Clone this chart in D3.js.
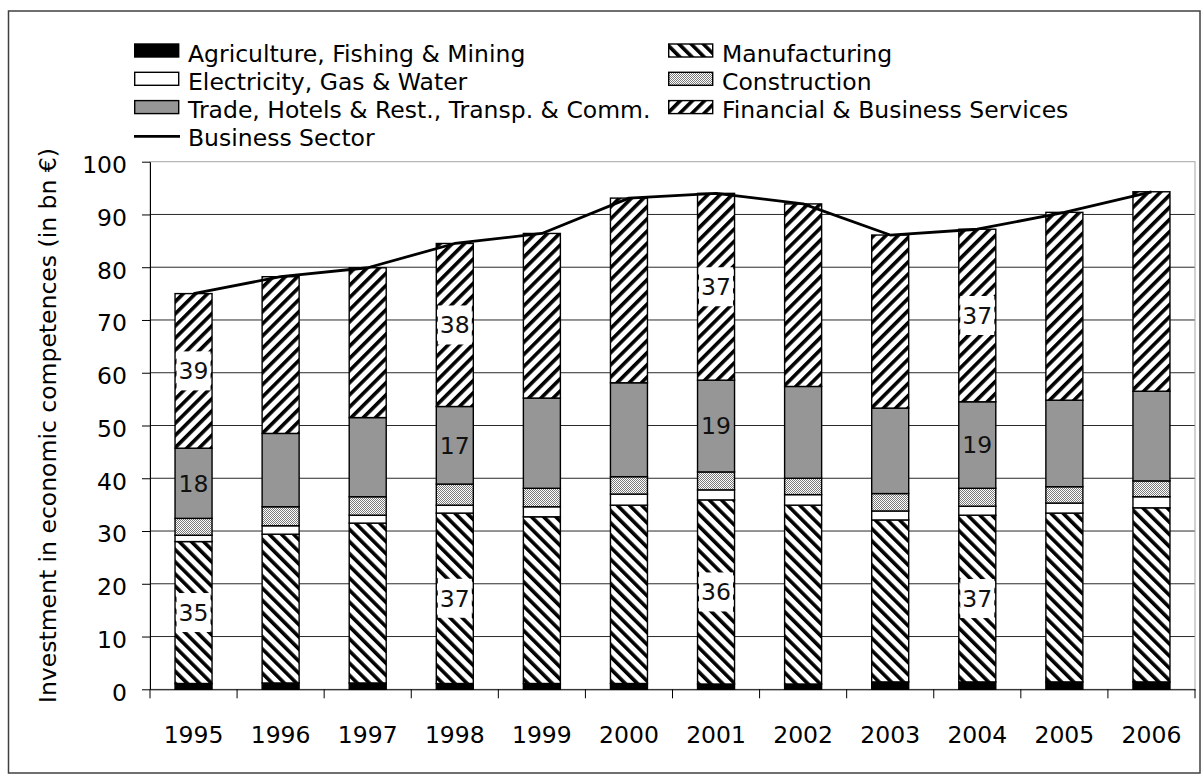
<!DOCTYPE html>
<html>
<head>
<meta charset="utf-8">
<script src="https://cdn.jsdelivr.net/npm/d3@7"></script>
<style>
  html, body { margin: 0; padding: 0; background: #fff; }
  svg { display: block; font-family: "DejaVu Sans", "Open Sans", sans-serif; }
</style>
</head>
<body>
<svg id="chart" width="1202" height="778"></svg>
<script>
// Investment in economic competences by sector, bn €
const years = ["1995", "1996", "1997", "1998", "1999", "2000", "2001", "2002", "2003", "2004", "2005", "2006"];
const agriculture   = [1.1, 1.2, 1.2, 1.1, 1.1, 1.1, 1.0, 1.0, 1.4, 1.4, 1.4, 1.4];
const manufacturing = [26.9, 28.2, 30.3, 32.3, 31.6, 33.8, 34.9, 33.9, 30.7, 31.6, 32.0, 33.0];
const electricity   = [1.2, 1.6, 1.5, 1.5, 1.9, 2.1, 1.9, 2.0, 1.7, 1.7, 1.9, 2.1];
const construction  = [3.2, 3.6, 3.5, 4.0, 3.5, 3.3, 3.4, 3.1, 3.3, 3.4, 3.1, 3.0];
const trade         = [13.3, 13.9, 15.0, 14.7, 17.1, 17.8, 17.4, 17.4, 16.2, 16.4, 16.4, 17.0];
const financial     = [29.3, 29.7, 28.4, 30.9, 31.2, 35.0, 35.4, 34.6, 32.8, 32.7, 35.6, 37.8];
const businessSector = [75.0, 78.2, 79.9, 84.5, 86.4, 93.1, 94.0, 92.0, 86.1, 87.2, 90.4, 94.3];

// Sector shares (%) printed inside selected bars
const shareYears         = ["1995", "1998", "2001", "2004"];
const manufacturingShare = [35, 37, 36, 37];
const tradeShare         = [18, 17, 19, 19];
const financialShare     = [39, 38, 37, 37];

const yTicks = [0, 10, 20, 30, 40, 50, 60, 70, 80, 90, 100];

const seriesKeys = ["agriculture", "manufacturing", "electricity", "construction", "trade", "financial"];
const seriesNames = {
  agriculture: "Agriculture, Fishing & Mining",
  manufacturing: "Manufacturing",
  electricity: "Electricity, Gas & Water",
  construction: "Construction",
  trade: "Trade, Hotels & Rest., Transp. & Comm.",
  financial: "Financial & Business Services"
};
const seriesValues = { agriculture, manufacturing, electricity, construction, trade, financial };
const table = years.map((year, i) => {
  const row = { year };
  seriesKeys.forEach(k => { row[k] = seriesValues[k][i]; });
  return row;
});

const FONT = "'DejaVu Sans', 'Open Sans', sans-serif";
const FS = 23.5;
const svg = d3.select("#chart");
const defs = svg.append("defs");

// Fill patterns
function stripes(id, angle) {
  const p = defs.append("pattern")
    .attr("id", id)
    .attr("patternUnits", "userSpaceOnUse")
    .attr("width", 8.6).attr("height", 8.6)
    .attr("patternTransform", `rotate(${angle})`);
  p.append("rect").attr("width", 8.6).attr("height", 8.6).attr("fill", "#fff");
  p.append("rect").attr("width", 3.6).attr("height", 8.6).attr("fill", "#000");
}
stripes("pat-manufacturing", -45);
stripes("pat-financial", 45);

const grid = defs.append("pattern")
  .attr("id", "pat-construction")
  .attr("patternUnits", "userSpaceOnUse")
  .attr("width", 4).attr("height", 4);
grid.append("rect").attr("width", 4).attr("height", 4).attr("fill", "#fff");
[[0, 0], [2, 0], [1, 1], [3, 1], [0, 2], [2, 2], [1, 3], [3, 3]].forEach(([px, py]) => {
  grid.append("rect").attr("x", px).attr("y", py).attr("width", 1).attr("height", 1).attr("fill", "#7a7a7a");
});

const fills = {
  agriculture: "#000",
  manufacturing: "url(#pat-manufacturing)",
  electricity: "#fff",
  construction: "url(#pat-construction)",
  trade: "#969696",
  financial: "url(#pat-financial)"
};

// Outer chart frame
svg.append("rect")
  .attr("x", 8.5).attr("y", 11).attr("width", 1191.5).attr("height", 762)
  .attr("fill", "none").attr("stroke", "#404040").attr("stroke-width", 1.5);

// Plot area
const plot = { left: 150, right: 1195, top: 161.7, bottom: 689.3 };

const x = d3.scaleBand()
  .domain(years)
  .range([plot.left, plot.right])
  .paddingInner(0.575)
  .paddingOuter(0.2875);

const y = d3.scaleLinear()
  .domain([0, 100])
  .range([plot.bottom, plot.top]);

// Gridlines
svg.append("g")
  .selectAll("line")
  .data(yTicks.filter(t => t > 0 && t < 100))
  .join("line")
  .attr("x1", plot.left).attr("x2", plot.right)
  .attr("y1", d => y(d)).attr("y2", d => y(d))
  .attr("stroke", "#2a2a2a").attr("stroke-width", 1);

// Plot area border
svg.append("rect")
  .attr("x", plot.left).attr("y", y(100))
  .attr("width", plot.right - plot.left).attr("height", y(0) - y(100))
  .attr("fill", "none").attr("stroke", "#a6a6a6").attr("stroke-width", 1);

// Stacked bars
const stacked = d3.stack().keys(seriesKeys)(table);
svg.append("g")
  .selectAll("g")
  .data(stacked)
  .join("g")
  .attr("fill", d => fills[d.key])
  .selectAll("rect")
  .data(d => d)
  .join("rect")
  .attr("x", d => x(d.data.year))
  .attr("width", x.bandwidth())
  .attr("y", d => y(d[1]))
  .attr("height", d => y(d[0]) - y(d[1]))
  .attr("stroke", "#000")
  .attr("stroke-width", 1.4);

// Share labels at the middle of their segments
function shareLabels(key, shares, boxed) {
  const layer = stacked.find(s => s.key === key);
  shareYears.forEach((yr, i) => {
    const seg = layer.find(d => d.data.year === yr);
    const cx = x(yr) + x.bandwidth() / 2;
    const cy = y((seg[0] + seg[1]) / 2);
    if (boxed) {
      svg.append("rect")
        .attr("x", x(yr) + 1.5).attr("width", x.bandwidth() - 3)
        .attr("y", cy - 19.5).attr("height", 39)
        .attr("fill", "#fff");
    }
    svg.append("text")
      .attr("x", cx).attr("y", cy)
      .attr("dy", "0.36em")
      .attr("text-anchor", "middle")
      .attr("font-size", FS)
      .attr("fill", "#111")
      .text(shares[i]);
  });
}
shareLabels("manufacturing", manufacturingShare, true);
shareLabels("trade", tradeShare, false);
shareLabels("financial", financialShare, true);

// Business sector total line
const line = d3.line()
  .x((d, i) => x(years[i]) + x.bandwidth() / 2)
  .y(d => y(d));
svg.append("path")
  .datum(businessSector)
  .attr("d", line)
  .attr("fill", "none")
  .attr("stroke", "#000")
  .attr("stroke-width", 2.8)
  .attr("stroke-linejoin", "round");

// Y axis
const yAxis = svg.append("g")
  .attr("transform", `translate(${plot.left},0)`)
  .call(d3.axisLeft(y).tickValues(yTicks).tickSize(8).tickSizeOuter(0).tickPadding(15));
yAxis.selectAll("text").attr("font-size", FS).attr("fill", "#000").attr("dy", "0.46em").attr("font-family", FONT);
yAxis.selectAll("line, path").attr("stroke", "#000").attr("stroke-width", 1);

// X axis: labels centred on bars, ticks on category boundaries
const xAxis = svg.append("g")
  .attr("transform", `translate(0,${plot.bottom})`)
  .call(d3.axisBottom(x).tickSize(0).tickSizeOuter(0).tickPadding(37));
xAxis.selectAll("text").attr("font-size", FS).attr("fill", "#000").attr("font-family", FONT);
xAxis.select("path").attr("stroke", "#000").attr("stroke-width", 1);

const step = x.step();
const boundaries = years.map(yr => x(yr) + x.bandwidth() / 2 - step / 2).concat([plot.right]);
svg.append("g")
  .selectAll("line")
  .data(boundaries)
  .join("line")
  .attr("x1", d => d).attr("x2", d => d)
  .attr("y1", plot.bottom).attr("y2", plot.bottom + 9)
  .attr("stroke", "#000").attr("stroke-width", 1);

// Y axis title
svg.append("text")
  .attr("transform", `translate(56,${(plot.top + plot.bottom) / 2}) rotate(-90)`)
  .attr("text-anchor", "middle")
  .attr("font-size", FS)
  .attr("fill", "#000")
  .text("Investment in economic competences (in bn €)");

// Legend
const legendRows = [
  { col: 0, row: 0, key: "agriculture" },
  { col: 0, row: 1, key: "electricity" },
  { col: 0, row: 2, key: "trade" },
  { col: 0, row: 3, key: "line" },
  { col: 1, row: 0, key: "manufacturing" },
  { col: 1, row: 1, key: "construction" },
  { col: 1, row: 2, key: "financial" }
];
const colX = [134, 668];
const textX = [188, 722];
const baseline0 = 61.5, rowGap = 28.3;
const legend = svg.append("g");
legendRows.forEach(item => {
  const by = baseline0 + item.row * rowGap;
  if (item.key === "line") {
    legend.append("line")
      .attr("x1", colX[item.col]).attr("x2", colX[item.col] + 46)
      .attr("y1", by - 10).attr("y2", by - 10)
      .attr("stroke", "#000").attr("stroke-width", 2.8);
  } else {
    legend.append("rect")
      .attr("x", colX[item.col] + 0.7).attr("y", by - 17.5)
      .attr("width", 44).attr("height", 13)
      .attr("fill", fills[item.key])
      .attr("stroke", "#000").attr("stroke-width", 1.4);
  }
  legend.append("text")
    .attr("x", textX[item.col]).attr("y", by)
    .attr("font-size", FS)
    .attr("fill", "#000")
    .text(item.key === "line" ? "Business Sector" : seriesNames[item.key]);
});
</script>
</body>
</html>
